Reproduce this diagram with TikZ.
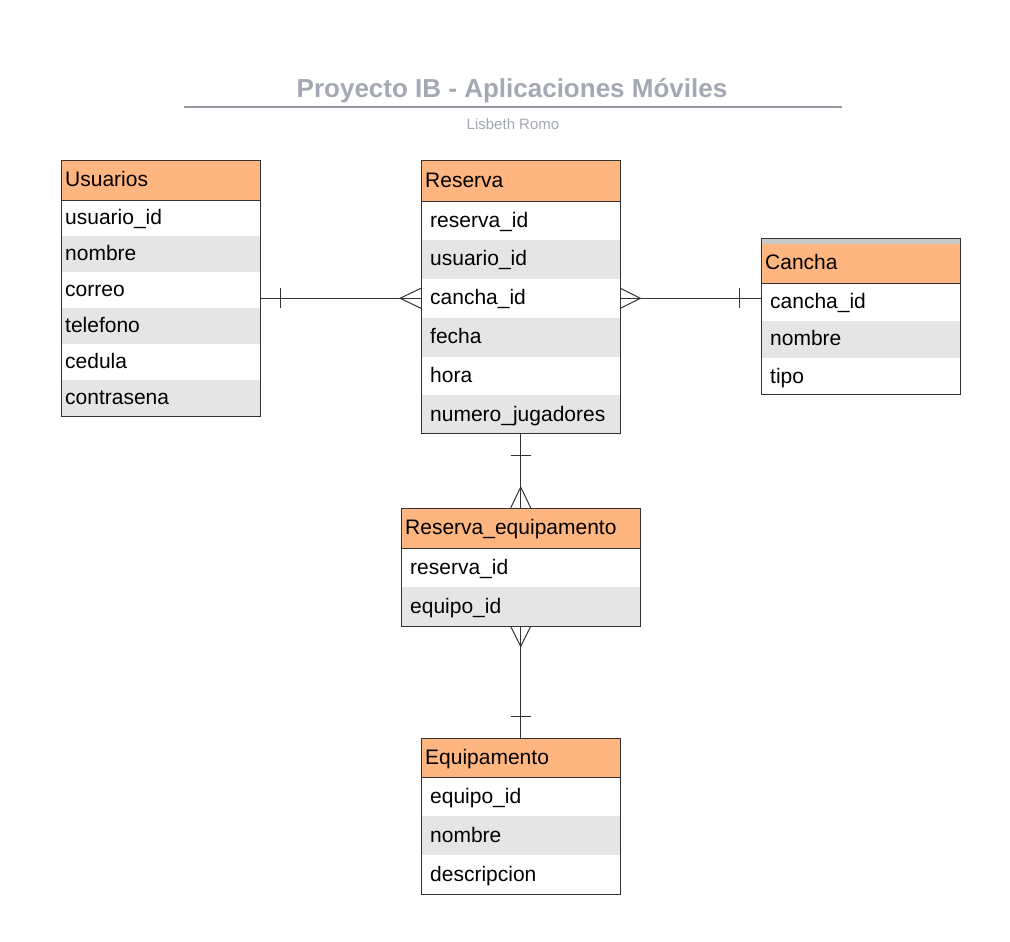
\documentclass[tikz,border=0pt]{standalone}
\usepackage{fontspec}
\setmainfont{Liberation Sans}
\usetikzlibrary{calc}
\definecolor{hdr}{HTML}{FFB580}
\definecolor{alt}{HTML}{E5E5E5}
\definecolor{edge}{HTML}{333333}
\definecolor{ttl}{HTML}{A3A8B2}
\definecolor{strip}{HTML}{C8C8C8}
\tikzset{
  cellbase/.style={anchor=north west, inner ysep=0pt, align=left,
    text height=16pt, text depth=3pt, font=\fontsize{21}{25}\selectfont},
  hdrcell/.style={cellbase, fill=hdr, inner xsep=4pt},
  fieldcell/.style={cellbase},
  tblborder/.style={draw=edge, line width=1pt},
  conn/.style={draw=edge, line width=1pt},
}
\newcommand\ertable[9]{%
  \pgfmathsetmacro\hw{#4-8}%
  \pgfmathsetmacro\fw{#4-2*#7}%
  \node[hdrcell, minimum height=#5, text width=\hw pt, minimum width=#4] (#1) at (#2,#3) {#8};
  \foreach \t [count=\i] in {#9} {
    \ifodd\i \def\fc{white}\else\def\fc{alt}\fi
    \pgfmathsetmacro\yy{#3+#5+(\i-1)*#6}
    \node[fieldcell, fill=\fc, minimum height=#6, text width=\fw pt, inner xsep=#7, minimum width=#4] (#1-\i) at (#2,\yy) {\t};
    \xdef\nrows{\i}
  }
  \pgfmathsetmacro\yb{#3+#5+\nrows*#6}
  \draw[tblborder] (#2,#3) rectangle (#2+#4,\yb);
  \draw[tblborder] (#1.south west) -- (#1.south east);
}
\begin{document}
\begin{tikzpicture}[x=1pt,y=-1pt]
\useasboundingbox (0,0) rectangle (1010,942);

% title
\node[text=ttl, font=\bfseries\fontsize{26}{30}\selectfont] (title) at (512,91) {Proyecto IB - Aplicaciones Móviles};
\coordinate (tl) at (184,107);
\coordinate (tr) at (842,107);
\draw[draw=ttl!90!black, line width=2pt] (tl) -- (tr);
\node[text=ttl, font=\fontsize{15}{17}\selectfont] (subtitle) at (513,124) {Lisbeth Romo};

% tables
\ertable{usr}{61}{160}{199}{40}{36}{4}{Usuarios}{usuario\_id,nombre,correo,telefono,cedula,contrasena}
\ertable{res}{421}{160}{199}{41}{38.83}{9}{Reserva}{reserva\_id,usuario\_id,cancha\_id,fecha,hora,numero\_jugadores}
\ertable{can}{761}{243}{199}{40}{37.33}{9}{Cancha}{cancha\_id,nombre,tipo}
\node[anchor=north west, fill=strip, minimum width=199, minimum height=5.5, inner sep=0pt] (can-top) at (761,238) {};
\draw[tblborder] (can-top.south west) |- (can-top.north east) -- (can-top.south east);
\ertable{req}{401}{508}{239}{40}{39}{9}{Reserva\_equipamento}{reserva\_id,equipo\_id}
\ertable{eqp}{421}{738}{199}{39}{39}{9}{Equipamento}{equipo\_id,nombre,descripcion}

% Usuarios -- Reserva (one to many)
\draw[conn] (res-3.west -| usr.east) -- (res-3.west);
\draw[conn] ($(res-3.west -| usr.east)+(20,-10)$) -- ++(0,20);
\draw[conn] ($(res-3.west)+(0,-10)$) -- ($(res-3.west)+(-21,0)$) -- ($(res-3.west)+(0,10)$);

% Reserva -- Cancha (many to one)
\draw[conn] (res-3.east) -- (res-3.east -| can.west);
\draw[conn] ($(res-3.east -| can.west)+(-22,-10)$) -- ++(0,20);
\draw[conn] ($(res-3.east)+(0,-10)$) -- ($(res-3.east)+(20,0)$) -- ($(res-3.east)+(0,10)$);

% Reserva -- Reserva_equipamento
\draw[conn] (res-6.south) -- (req.north);
\draw[conn] ($(res-6.south)+(-10,21)$) -- ++(20,0);
\draw[conn] ($(req.north)+(-10,0)$) -- ($(req.north)+(0,-21)$) -- ($(req.north)+(10,0)$);

% Reserva_equipamento -- Equipamento
\draw[conn] (req-2.south) -- (eqp.north);
\draw[conn] ($(eqp.north)+(-10,-22)$) -- ++(20,0);
\draw[conn] ($(req-2.south)+(-10,0)$) -- ($(req-2.south)+(0,20)$) -- ($(req-2.south)+(10,0)$);
\end{tikzpicture}
\end{document}
